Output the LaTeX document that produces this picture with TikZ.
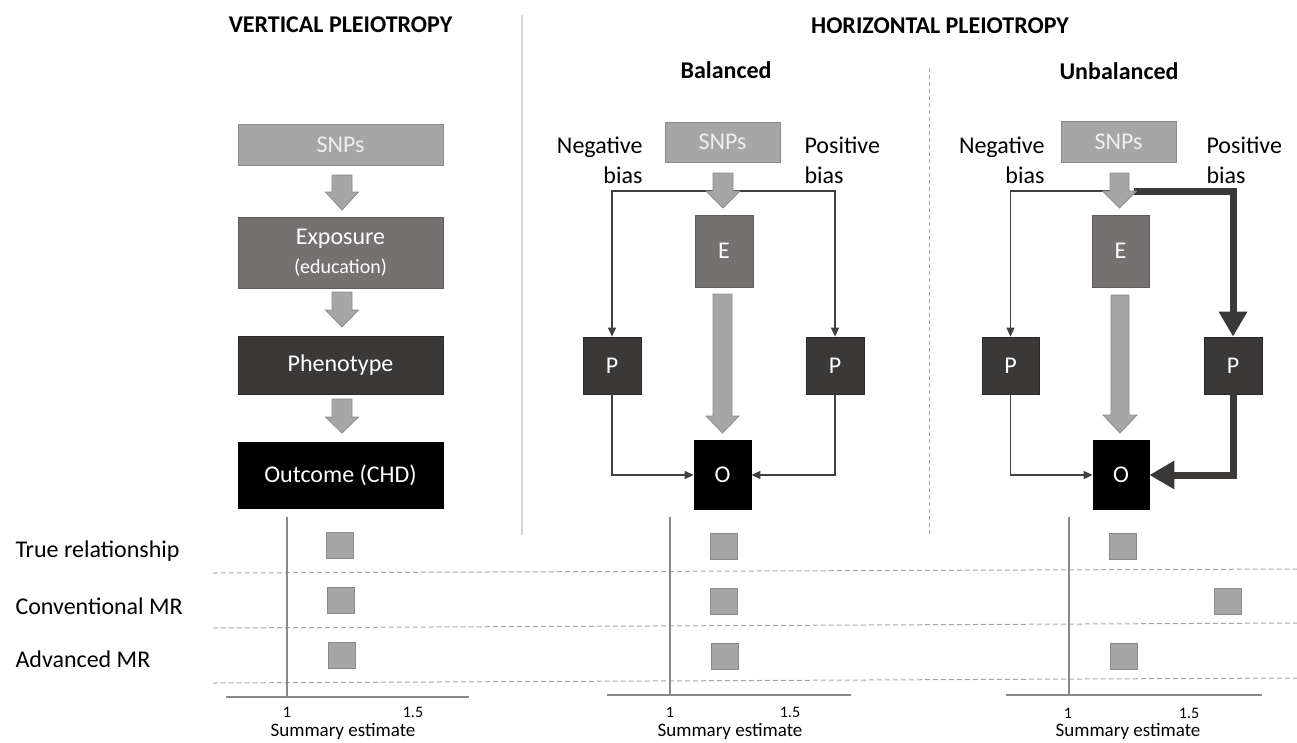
\documentclass[tikz,border=0pt]{standalone}
\usepackage{fontspec}
\setmainfont{Carlito}
\usetikzlibrary{arrows.meta}
\definecolor{snpgray}{HTML}{A6A6A6}
\definecolor{snpedge}{HTML}{8C8C8C}
\definecolor{expgray}{HTML}{767171}
\definecolor{expedge}{HTML}{5F5B5B}
\definecolor{phengray}{HTML}{3B3838}
\definecolor{phenedge}{HTML}{2A2828}
\definecolor{linegray}{HTML}{404040}
\definecolor{axisgray}{HTML}{8A8A8A}
\definecolor{dashgray}{HTML}{A8A8A8}
\definecolor{sepgray}{HTML}{D6D6D6}
\definecolor{snptext}{HTML}{EFEFEF}
\newcommand\blkarrow[6]{%
  \draw[barrow] (#1-#5,#2) -- (#1+#5,#2) -- (#1+#5,#3) -- (#1+#6,#3) -- (#1,#4) -- (#1-#6,#3) -- (#1-#5,#3) -- cycle;}
\tikzset{
  barrow/.style={fill=snpgray,draw=snpedge,line width=0.8pt},
  boxbase/.style={rectangle,inner sep=0pt,line width=0.8pt,font=\fontsize{24}{28}\selectfont,text=white,align=center},
  snpbox/.style={boxbase,fill=snpgray,draw=snpedge,text=snptext},
  expbox/.style={boxbase,fill=expgray,draw=expedge},
  phenbox/.style={boxbase,fill=phengray,draw=phenedge},
  outbox/.style={boxbase,fill=black,draw=black},
  thinarrow/.style={draw=linegray,line width=1.5pt,-{Triangle[length=9pt,width=8pt]}},
  thickarrow/.style={draw=phengray,line width=7pt,-{Triangle[length=25pt,width=27pt]}},
  title/.style={font=\fontsize{24}{28}\selectfont\bfseries,anchor=base},
  lbl/.style={font=\fontsize{24}{28}\selectfont},
  sq/.style={rectangle,inner sep=0pt,minimum width=27pt,minimum height=26pt,fill=snpgray,draw=axisgray,line width=1pt},
  axis/.style={draw=axisgray,line width=1.2pt},
  rowsep/.style={draw=dashgray,line width=1pt,dash pattern=on 5pt off 3pt},
  tick/.style={font=\fontsize{16}{18}\selectfont,anchor=base},
  axlbl/.style={font=\fontsize{19}{22}\selectfont,anchor=base}
}
\begin{document}
\begin{tikzpicture}[x=1pt,y=-1pt]
\useasboundingbox (0,0) rectangle (1297,742);
% separators
\draw[draw=sepgray,line width=2pt] (522,15) -- (522,535);
\draw[draw=dashgray,line width=1pt,dash pattern=on 4pt off 3pt] (929,68) -- (929,535);
% titles
\node[title] (tv) at (340.5,32) {VERTICAL PLEIOTROPY};
\node[title] (th) at (940,33) {HORIZONTAL PLEIOTROPY};
\node[title] (tb) at (726,78) {Balanced};
\node[title] (tu) at (1119,79) {Unbalanced};

% ---------- vertical pleiotropy ----------
\node[snpbox,minimum width=205pt,minimum height=41pt] (vsnp) at (340.5,144.5) {SNPs};
\node[expbox,minimum width=205pt,minimum height=71pt] (vexp) at (340.5,252.5) {Exposure\\[1pt]{\fontsize{20}{24}\selectfont (education)}};
\node[phenbox,minimum width=205pt,minimum height=58pt] (vphen) at (340.5,365) {Phenotype};
\node[outbox,minimum width=205pt,minimum height=66pt] (vout) at (340.5,475) {Outcome (CHD)};
\blkarrow{342}{175}{192}{210}{10}{16.5}
\blkarrow{342}{292}{310}{327}{10}{16.5}
\blkarrow{342}{399}{417}{433}{10}{16.5}

% ---------- balanced ----------
\node[snpbox,minimum width=115pt,minimum height=40pt] (bsnp) at (722.5,142) {SNPs};
\node[expbox,minimum width=58pt,minimum height=72pt] (be) at (724,251) {E};
\node[phenbox,minimum width=58pt,minimum height=57pt] (bpl) at (612,365.5) {P};
\node[phenbox,minimum width=58pt,minimum height=57pt] (bpr) at (835,365.5) {P};
\node[outbox,minimum width=57pt,minimum height=69pt] (bo) at (722.5,475) {O};
\coordinate (bsplit) at (723,191);
\draw[thinarrow] (bsplit) -| (bpl.north);
\draw[thinarrow] (bsplit) -| (bpr.north);
\draw[thinarrow] (bpl.south) |- (bo.west);
\draw[thinarrow] (bpr.south) |- (bo.east);
\blkarrow{723}{173}{191}{208}{10}{17}
\blkarrow{722.5}{294}{416}{433}{9.5}{16.5}
\node[lbl,anchor=base east] (bneg1) at (646,153) {Negative};
\node[lbl,anchor=base east] (bneg2) at (646,183) {bias};
\node[lbl,anchor=base west] (bpos1) at (801,153) {Positive};
\node[lbl,anchor=base west] (bpos2) at (801,183) {bias};

% ---------- unbalanced ----------
\node[snpbox,minimum width=115pt,minimum height=41pt] (usnp) at (1118.5,141.5) {SNPs};
\node[expbox,minimum width=57pt,minimum height=72pt] (ue) at (1120.5,251) {E};
\node[phenbox,minimum width=57pt,minimum height=57pt] (upl) at (1010.5,365.5) {P};
\node[phenbox,minimum width=58pt,minimum height=57pt] (upr) at (1233,365.5) {P};
\node[outbox,minimum width=56pt,minimum height=69pt] (uo) at (1121,475) {O};
\coordinate (usplit) at (1119.5,191);
\coordinate (ustart) at (1134,191);
\draw[thinarrow] (usplit) -| (upl.north);
\draw[thinarrow] (upl.south) |- (uo.west);
\draw[thickarrow] (ustart) -| (upr.north);
\draw[thickarrow] (upr.south) |- (uo.east);
\blkarrow{1119.5}{173}{191}{208}{9.5}{17}
\blkarrow{1120}{295}{415}{433}{9}{17}
\node[lbl,anchor=base east] (uneg1) at (1048,153) {Negative};
\node[lbl,anchor=base east] (uneg2) at (1048,183) {bias};
\node[lbl,anchor=base west] (upos1) at (1203,153) {Positive};
\node[lbl,anchor=base west] (upos2) at (1203,183) {bias};

% ---------- forest plots ----------
\draw[rowsep] (213,573) -- (1297,569);
\draw[rowsep] (213,628) -- (1297,623);
\draw[rowsep] (213,683) -- (1297,678);
\node[lbl,anchor=west] (r1) at (12,551) {True relationship};
\node[lbl,anchor=west] (r2) at (12,606) {Conventional MR};
\node[lbl,anchor=west] (r3) at (12,659) {Advanced MR};

\draw[axis] (287,517) -- (287,697);
\draw[axis] (226,697) -- (469,697);
\draw[axis] (670,517) -- (670,695);
\draw[axis] (607,695) -- (851,695);
\draw[axis] (1069,517) -- (1069,695);
\draw[axis] (1006,695) -- (1262,695);

\node[sq] (s11) at (339.5,545) {};
\node[sq] (s12) at (341,600) {};
\node[sq] (s13) at (341.5,655) {};
\node[sq] (s21) at (723.5,546) {};
\node[sq] (s22) at (724,601) {};
\node[sq] (s23) at (725,656) {};
\node[sq] (s31) at (1122.5,546) {};
\node[sq] (s32) at (1227.5,601) {};
\node[sq] (s33) at (1123.5,656.5) {};

\node[tick] (t11) at (287,717) {1};
\node[tick] (t12) at (413,717) {1.5};
\node[tick] (t21) at (670,717) {1};
\node[tick] (t22) at (790,717) {1.5};
\node[tick] (t31) at (1068,718) {1};
\node[tick] (t32) at (1189,718) {1.5};
\node[axlbl] (a1) at (343,736) {Summary estimate};
\node[axlbl] (a2) at (730,736) {Summary estimate};
\node[axlbl] (a3) at (1128,736) {Summary estimate};
\end{tikzpicture}
\end{document}
